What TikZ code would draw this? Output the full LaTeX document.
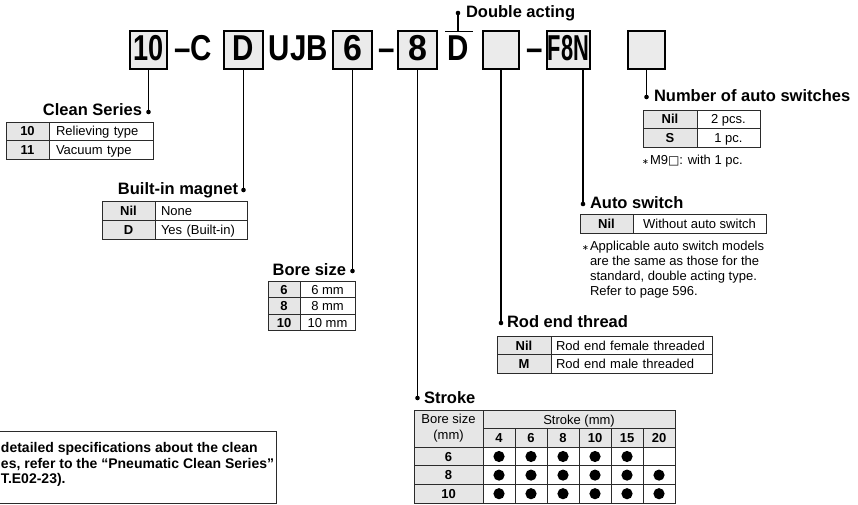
\documentclass[tikz,border=0pt]{standalone}
\usepackage{fontspec}
\setmainfont{Liberation Sans}
\newfontfamily\codefont[FakeStretch=0.82]{Liberation Sans}
\newfontfamily\symfont{DejaVu Sans}
\usepackage{xcolor}
\usetikzlibrary{positioning}
\definecolor{boxgray}{HTML}{EBEBEB}
\definecolor{keygray}{HTML}{E6E6E6}
\definecolor{rulegray}{HTML}{2B2B2B}
\newcommand{\astmark}{{\symfont\fontsize{8}{8}\selectfont ∗}}
\newcommand{\sqmark}{{\symfont\fontsize{12}{12}\selectfont □}}

\begin{document}
\begin{tikzpicture}[x=1pt, y=-1pt, inner sep=0pt, outer sep=0pt]
  % Styles
  \tikzstyle{codebox}=[rectangle, draw, line width=1.2pt, fill=boxgray, minimum width=37pt, minimum height=38pt, text height=22pt, text depth=0pt, font=\codefont\bfseries\fontsize{36}{36}\selectfont]
  \tikzstyle{codetxt}=[anchor=base, font=\codefont\bfseries\fontsize{36}{36}\selectfont]
  \tikzstyle{conn}=[line width=1.3pt]
  \tikzstyle{head}=[font=\bfseries\fontsize{16.5}{18}\selectfont]
  \tikzstyle{keycell}=[rectangle, draw=rulegray, line width=0.9pt, fill=keygray, anchor=north west, minimum height=18.5pt, text height=9.5pt, text depth=0pt, font=\bfseries\fontsize{13}{15}\selectfont]
  \tikzstyle{valcell}=[rectangle, draw=rulegray, line width=0.9pt, fill=white, anchor=north west, minimum height=18.5pt, text height=9.5pt, text depth=0pt, font=\fontsize{13}{15}\selectfont]
  \tikzstyle{note}=[align=left, font=\fontsize{13}{15}\selectfont]

  \clip (0,0) rectangle (858,505);
  \useasboundingbox (0,0) rectangle (858,505);

  % Model code
  \node[codebox] (c10) at (148.5,50) {\scalebox{0.92}[1]{10}};
  \node[codetxt] (cC) at (193,61) {–C};
  \node[codebox, minimum width=39pt] (cD) at (243.5,50) {D};
  \node[codetxt] (cUJB) at (298.5,61) {UJB};
  \node[codebox, minimum width=39pt] (c6) at (352.5,50) {\scalebox{1.15}[1]{6}};
  \node[codetxt] (cDash1) at (386.5,61) {–};
  \node[codebox, minimum width=39pt] (c8) at (417.5,50) {\scalebox{1.15}[1]{8}};
  \node[codetxt] (cDact) at (458,61) {D};
  \node[codebox, minimum width=36pt] (cBlank) at (501,50) {};
  \node[codetxt] (cDash2) at (535,61) {–};
  \node[codebox, minimum width=43pt] (cF8N) at (568.5,50) {\scalebox{0.74}[1]{F8N}};
  \node[codebox] (cNum) at (646.5,50) {};

  % Lead points
  \coordinate (dClean) at (148.5,112);
  \coordinate (dMag) at (243.5,190);
  \coordinate (dBore) at (352.5,271);
  \coordinate (dStroke) at (417.5,398);
  \coordinate (dRod) at (501,323);
  \coordinate (dAuto) at (583,204);
  \coordinate (dNum) at (646.5,97);
  \coordinate (dDouble) at (458,13);
  \coordinate (barL) at (445,31.5);
  \coordinate (barR) at (473,31.5);

  % Leaders
  \draw[conn] (c10.south) -- (dClean);
  \draw[conn] (cD.south) -- (dMag);
  \draw[conn] (c6.south) -- (dBore);
  \draw[conn] (c8.south) -- (dStroke);
  \draw[conn] (cBlank.south) -- (dRod);
  \draw[conn] (dAuto |- cF8N.south) -- (dAuto);
  \draw[conn] (cNum.south) -- (dNum);
  \draw[conn] (barL) -- (barR);
  \draw[conn] (dDouble |- barL) -- (dDouble);
  \foreach \d in {dClean,dMag,dBore,dStroke,dRod,dAuto,dNum,dDouble}
    \fill (\d) circle (2.3pt);

  % Headings
  \node[head, anchor=base west] (hDouble) at (466,18) {Double acting};
  \node[head, anchor=base east] (hClean) at (142,116) {Clean Series};
  \node[head, anchor=base east] (hMag) at (238,194) {Built-in magnet};
  \node[head, anchor=base east] (hBore) at (346,275) {Bore size};
  \node[head, anchor=base west] (hStroke) at (424,403) {Stroke};
  \node[head, anchor=base west] (hRod) at (507,327) {Rod end thread};
  \node[head, anchor=base west] (hAuto) at (590,208) {Auto switch};
  \node[head, anchor=base west] (hNum) at (654,102) {Number of auto switches};

  % Clean series
  \node[keycell, minimum width=43pt] (cs10) at (6,122) {10};
  \node[valcell, minimum width=104pt, text width=90pt, align=left, right=0pt of cs10] (cs10v) {Relieving type};
  \node[keycell, minimum width=43pt, below=0pt of cs10] (cs11) {11};
  \node[valcell, minimum width=104pt, text width=90pt, align=left, right=0pt of cs11] (cs11v) {Vacuum type};

  % Built-in magnet
  \node[keycell, minimum width=53pt, minimum height=19pt] (mgNil) at (102,201) {Nil};
  \node[valcell, minimum width=92pt, minimum height=19pt, text width=80pt, align=left, right=0pt of mgNil] (mgNilv) {None};
  \node[keycell, minimum width=53pt, minimum height=19pt, below=0pt of mgNil] (mgD) {D};
  \node[valcell, minimum width=92pt, minimum height=19pt, text width=80pt, align=left, right=0pt of mgD] (mgDv) {Yes (Built-in)};

  % Bore size
  \node[keycell, minimum width=32pt, minimum height=16.5pt] (bs6) at (268,281) {6};
  \node[valcell, minimum width=55pt, minimum height=16.5pt, right=0pt of bs6] (bs6v) {6 mm};
  \node[keycell, minimum width=32pt, minimum height=16.5pt, below=0pt of bs6] (bs8) {8};
  \node[valcell, minimum width=55pt, minimum height=16.5pt, right=0pt of bs8] (bs8v) {8 mm};
  \node[keycell, minimum width=32pt, minimum height=16.5pt, below=0pt of bs8] (bs10) {10};
  \node[valcell, minimum width=55pt, minimum height=16.5pt, right=0pt of bs10] (bs10v) {10 mm};

  % Rod end thread
  \node[keycell, minimum width=54pt] (rdNil) at (497,336) {Nil};
  \node[valcell, minimum width=161pt, text width=151pt, align=left, right=0pt of rdNil] (rdNilv) {Rod end female threaded};
  \node[keycell, minimum width=54pt, below=0pt of rdNil] (rdM) {M};
  \node[valcell, minimum width=161pt, text width=151pt, align=left, right=0pt of rdM] (rdMv) {Rod end male threaded};

  % Auto switch
  \node[keycell, minimum width=53pt, minimum height=19pt] (asNil) at (580,214) {Nil};
  \node[valcell, minimum width=133pt, minimum height=19pt, right=0pt of asNil] (asNilv) {Without auto switch};
  \node[note, anchor=north west] (asNote) at (582,241.5) {\makebox[8pt][l]{\astmark}Applicable auto switch models\\
    \hspace*{8pt}are the same as those for the\\
    \hspace*{8pt}standard, double acting type.\\
    \hspace*{8pt}Refer to page 596.};

  % Number of auto switches
  \node[keycell, minimum width=54pt] (nmNil) at (643,110) {Nil};
  \node[valcell, minimum width=63pt, right=0pt of nmNil] (nmNilv) {2 pcs.};
  \node[keycell, minimum width=54pt, below=0pt of nmNil] (nmS) {S};
  \node[valcell, minimum width=63pt, right=0pt of nmS] (nmSv) {1 pc.};
  \node[note, anchor=base west] (nmNote) at (642,164.5) {\makebox[8pt][l]{\astmark}M9\sqmark: with 1 pc.};

  % Stroke table
  \node[keycell, minimum width=69pt, minimum height=37.2pt, text height={}, text depth={}, align=center, font=\fontsize{13}{16}\selectfont] (stHead) at (414,410) {Bore size\\(mm)};
  \node[keycell, minimum width=192pt, minimum height=18.6pt, font=\fontsize{13}{15}\selectfont] (stTop) at (483,410) {Stroke (mm)};
  \foreach \s [count=\i from 0] in {4,6,8,10,15,20}
    \node[keycell, minimum width=32pt, minimum height=18.6pt] (st\i) at (483+32*\i,428.6) {\s};
  \foreach \b/\n [count=\r from 0] in {6/5,8/6,10/6} {
    \node[keycell, minimum width=69pt, minimum height=18.6pt] (sb\r) at (414,447.2+18.6*\r) {\b};
    \foreach \i in {0,...,5} {
      \node[valcell, minimum width=32pt, minimum height=18.6pt] (sc\r\i) at (483+32*\i,447.2+18.6*\r) {};
      \ifnum\i<\n \fill (sc\r\i) circle (5.6pt); \fi
    }
  }

  % Clean series note
  \draw[draw=rulegray, line width=0.9pt] (-5,431) rectangle (276,503);
  \node[align=left, anchor=north west, font=\bfseries\fontsize{14}{15.5}\selectfont] (cnNote) at (1,442.5) {detailed specifications about the clean\\
    es, refer to the “Pneumatic Clean Series”\\
    T.E02-23).};
\end{tikzpicture}
\end{document}
